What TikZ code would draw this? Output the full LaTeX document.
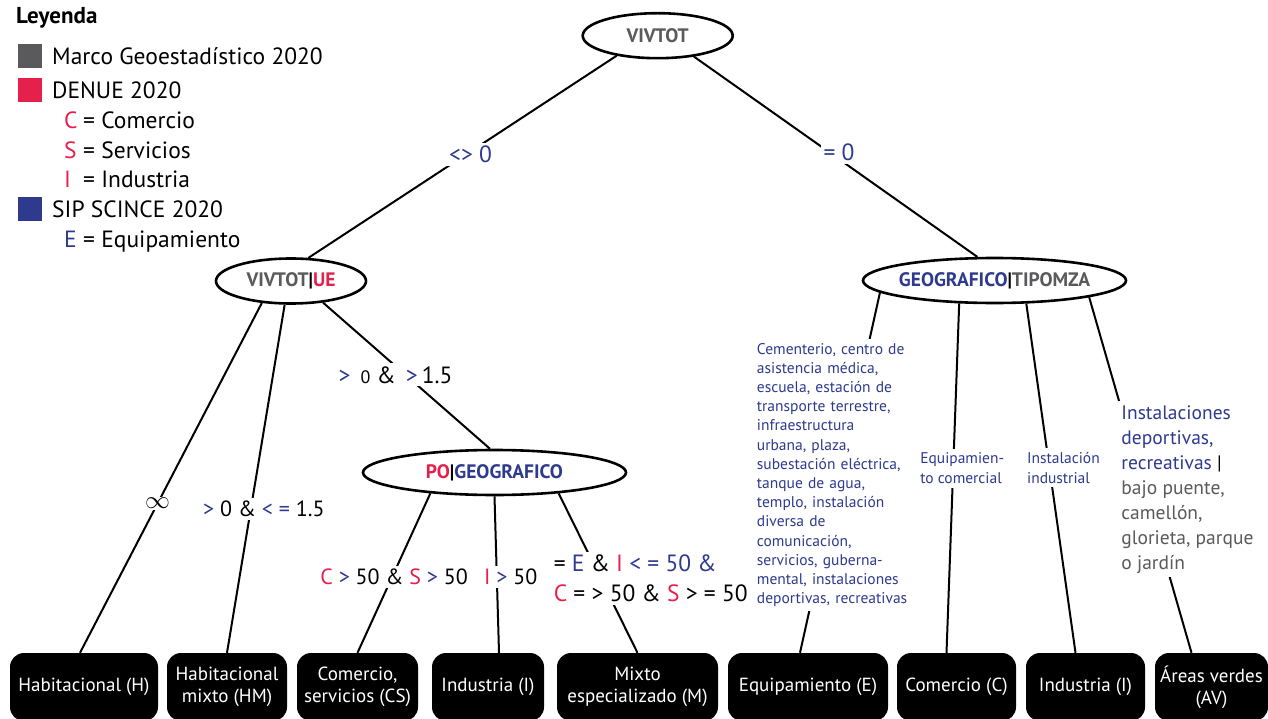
\documentclass[tikz,border=0pt]{standalone}
\usepackage{fontspec}
\setmainfont{PT Sans}
\usepackage{xcolor}
\usepackage{tikz}
\usetikzlibrary{shapes.geometric,calc}
\definecolor{gristxt}{HTML}{5A5A5C}
\definecolor{rojo}{HTML}{E5204B}
\definecolor{azul}{HTML}{2E3A8E}
\newcommand{\trojo}[1]{\textcolor{rojo}{#1}}
\newcommand{\tazul}[1]{\textcolor{azul}{#1}}
\newcommand{\tgris}[1]{\textcolor{gristxt}{#1}}
\newcommand{\clave}[1]{\makebox[19pt][l]{#1}}
\tikzset{
  arista/.style={draw=black, line width=2pt},
  elipse/.style={ellipse, draw=black, line width=2.6pt, fill=white, inner xsep=-40pt, inner ysep=0pt,
    minimum height=45, font=\bfseries\fontsize{19.5}{22}\selectfont},
  hoja/.style={rectangle, rounded corners=14pt, fill=black, text=white, inner sep=0pt,
    minimum height=68, align=center, font=\fontsize{19}{22}\selectfont},
  cond/.style={fill=white, inner sep=3pt, align=left, font=\fontsize{22}{30}\selectfont},
  nota/.style={fill=white, inner sep=4pt, align=left, text=azul},
  leyenda/.style={anchor=west, inner sep=0pt, font=\fontsize{23.5}{26}\selectfont},
  cuadro/.style={minimum size=24, inner sep=0pt},
}

\begin{document}
\begin{tikzpicture}[x=1pt,y=-1pt]
  \useasboundingbox (0,0) rectangle (1268,719);
  % leyenda
  \node[leyenda, font=\bfseries\fontsize{23}{26}\selectfont] (titulo) at (16,18) {Leyenda};
  \node[cuadro, fill=gristxt] (sqmg) at (30,56) {};
  \node[leyenda] (tmg) at (52,56) {Marco Geoestadístico 2020};
  \node[cuadro, fill=rojo] (sqdenue) at (30,90) {};
  \node[leyenda] (tdenue) at (52,90) {DENUE 2020};
  \node[leyenda] (tc) at (64,120) {\clave{\trojo{C}}= Comercio};
  \node[leyenda] (ts) at (64,150) {\clave{\trojo{S}}= Servicios};
  \node[leyenda] (ti) at (64,179) {\clave{\trojo{I}}= Industria};
  \node[cuadro, fill=azul] (sqsip) at (30,209) {};
  \node[leyenda] (tsip) at (52,209) {SIP SCINCE 2020};
  \node[leyenda] (te) at (64,242) {\clave{\tazul{E}}= Equipamiento};

  % arbol
  \node[elipse, minimum width=150, text=gristxt] (viv) at (657.7,35.7) {VIVTOT};
  \node[elipse, minimum width=150] (ue) at (291,281) {\tgris{VIVTOT}|\trojo{UE}};
  \node[elipse, minimum width=263] (po) at (494.5,472.5) {\trojo{PO}|\tazul{GEOGRAFICO}};
  \node[elipse, minimum width=263] (geo) at (994.5,280.5) {\tazul{GEOGRAFICO}|\tgris{TIPOMZA}};

  \node[hoja, minimum width=148] (hab) at (84,687) {Habitacional (H)};
  \node[hoja, minimum width=120] (habm) at (227,687) {Habitacional\\mixto (HM)};
  \node[hoja, minimum width=121] (cs) at (357.5,687) {Comercio,\\servicios (CS)};
  \node[hoja, minimum width=112] (ind) at (488,687) {Industria (I)};
  \node[hoja, minimum width=161] (mix) at (637.5,687) {Mixto\\especializado (M)};
  \node[hoja, minimum width=160] (equ) at (808,687) {Equipamiento (E)};
  \node[hoja, minimum width=119] (com) at (956.5,687) {Comercio (C)};
  \node[hoja, minimum width=119] (indb) at (1085.5,687) {Industria (I)};
  \node[hoja, minimum width=113] (av) at (1211.5,687) {Áreas verdes\\(AV)};

  \draw[arista] (viv.206) -- node[cond, pos=0.49, xshift=5pt, text=azul, font=\fontsize{23.5}{30}\selectfont] (k1) {<> 0} (ue.53);
  \draw[arista] (viv.330) -- node[cond, pos=0.48, xshift=9pt, text=azul, font=\fontsize{23.5}{30}\selectfont] (k2) {= 0} (geo.126);

  \draw[arista] (ue.217) -- node[cond, pos=0.573, inner sep=1pt, font=\fontsize{25}{30}\selectfont] (k3) {$\infty$} ($(hab.north)+(-4,0)$);
  \draw[arista] (ue.255) -- node[cond, pos=0.586, xshift=13pt] (k4)
    {\tazul{>} 0 \& \tazul{< =} 1.5} (habm.north);
  \draw[arista] (ue.326) -- node[cond, pos=0.494, xshift=-10pt, font=\fontsize{23.5}{30}\selectfont] (k5)
    {\tazul{>}\ \,{\fontsize{18}{20}\selectfont 0} \& \,\tazul{>}\,1.5} (po.101);

  \draw[arista] (po.198) -- node[cond, pos=0.525, xshift=2pt] (k6)
    {\trojo{C} \tazul{>} 50 \& \trojo{S} \tazul{>} 50} (cs.north);
  \draw[arista] (po.270) -- node[cond, pos=0.515, xshift=14pt] (k7)
    {\trojo{I} \tazul{>} 50} ($(ind.north)+(11,0)$);
  \draw[arista] (po.342) -- node[cond, pos=0.534, xshift=50pt, font=\fontsize{23.5}{30}\selectfont] (k8)
    {= \tazul{E} \& \trojo{I} \tazul{< = 50 \&}\\\trojo{C} = > 50 \& \trojo{S} > = 50} (mix.north);

  \draw[arista] (geo.186) -- node[nota, pos=0.5065, xshift=-5pt, text width=155pt,
    font=\fontsize{15.5}{19.2}\selectfont] (k9)
    {Cementerio, centro de\\asistencia médica,\\escuela, estación de\\transporte terrestre,\\infraestructura\\urbana, plaza,\\subestación eléctrica,\\tanque de agua,\\templo, instalación\\diversa de\\comunicación,\\servicios, guberna-\\mental, instalaciones\\deportivas, recreativas}
    ($(equ.north)+(-8,0)$);
  \draw[arista] (geo.213) -- node[nota, pos=0.472, xshift=9pt, font=\fontsize{15.5}{20}\selectfont] (k10)
    {Equipamien-\\to comercial} ($(com.north)+(-10,0)$);
  \draw[arista] (geo.324) -- node[nota, pos=0.47, xshift=14pt, font=\fontsize{15.5}{20}\selectfont] (k11)
    {Instalación\\industrial} ($(indb.north)+(-10,0)$);
  \draw[arista] (geo.350) -- node[nota, pos=0.54, xshift=43pt, text=black, font=\fontsize{19.5}{25}\selectfont] (k12)
    {\tazul{Instalaciones}\\\tazul{deportivas,}\\\tazul{recreativas} |\\\tgris{bajo puente,}\\\tgris{camellón,}\\\tgris{glorieta, parque}\\\tgris{o jardín}}
    ($(av.north)+(-20,0)$);
\end{tikzpicture}
\end{document}
